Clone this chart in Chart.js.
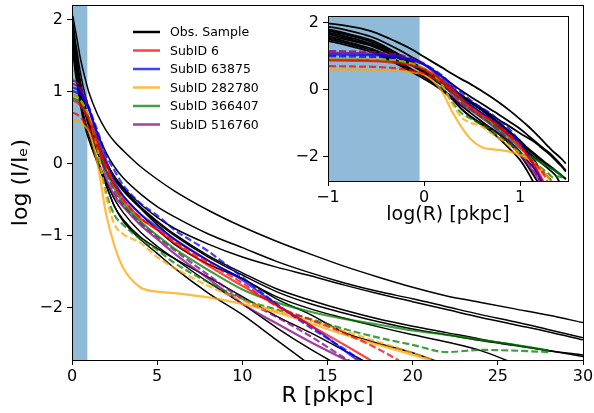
<!DOCTYPE html>
<html>
<head>
<meta charset="utf-8">
<script src="https://cdn.jsdelivr.net/npm/chart.js@4.4.0/dist/chart.umd.min.js"></script>
<style>
html, body { margin: 0; padding: 0; background: #fff; }
#wrap { position: relative; width: 594px; height: 413px; }
#main { position: absolute; left: 0; top: 0; }
#inset { position: absolute; left: 292px; top: 8px; }
</style>
</head>
<body>
<div id="wrap">
  <canvas id="main" width="594" height="413" style="width:594px;height:413px"></canvas>
  <canvas id="inset" width="284" height="222" style="width:284px;height:222px"></canvas>
</div>
<script>
// radius grid [pkpc] shared by all profiles
const radii = [0.05, 0.1, 0.2, 0.3, 0.5, 0.75, 1, 1.5, 2, 2.5, 3, 4, 5, 6, 8, 10, 12, 14, 16, 18, 20, 22, 24, 26, 28, 30];

// observed sample, log(I/Ie) at each radius (shorter lists = profile stops)
const obsA = [2.05, 1.98, 1.85, 1.72, 1.45, 1.2, 0.98, 0.68, 0.46, 0.3, 0.18, -0.04, -0.22, -0.38, -0.65, -0.88, -1.08, -1.26, -1.43, -1.58, -1.72, -1.84, -1.93, -2.02, -2.11, -2.21];
const obsB = [1.95, 1.88, 1.7, 1.55, 1.25, 0.97, 0.76, 0.42, 0.15, -0.05, -0.2, -0.42, -0.6, -0.74, -0.98, -1.17, -1.36, -1.52, -1.66, -1.78, -1.88, -1.99, -2.1, -2.2, -2.31, -2.42];
const obsB2 = [1.85, 1.76, 1.56, 1.4, 1.1, 0.82, 0.6, 0.28, 0.02, -0.18, -0.33, -0.56, -0.75, -0.9, -1.12, -1.3, -1.44, -1.56, -1.69, -1.81, -1.92, -2.03, -2.14, -2.24, -2.34, -2.45];
const obsC = [1.8, 1.7, 1.5, 1.35, 1.05, 0.77, 0.56, 0.24, 0.0, -0.2, -0.36, -0.6, -0.82, -1.0, -1.3, -1.55, -1.78, -1.95, -2.08, -2.2, -2.3, -2.38, -2.46, -2.53, -2.6, -2.66];
const obsJ = [1.9, 1.8, 1.6, 1.45, 1.12, 0.82, 0.6, 0.28, 0.02, -0.19, -0.35, -0.6, -0.8, -0.98, -1.28, -1.52, -1.74, -1.9, -2.04, -2.16, -2.26, -2.35, -2.44, -2.52, -2.6, -2.68];
const obsD = [1.7, 1.6, 1.42, 1.28, 1.0, 0.74, 0.54, 0.22, -0.02, -0.22, -0.38, -0.62, -0.85, -1.05, -1.35, -1.6, -1.85, -2.02, -2.15, -2.27, -2.38, -2.48, -2.6, -2.78];
const obsE = [1.75, 1.65, 1.45, 1.3, 1.0, 0.72, 0.5, 0.15, -0.1, -0.3, -0.45, -0.7, -0.92, -1.12, -1.4, -1.6, -1.88, -2.1, -2.35, -2.5, -2.63, -2.8];
const obsG = [1.6, 1.5, 1.3, 1.15, 0.85, 0.58, 0.38, 0.05, -0.25, -0.5, -0.68, -0.95, -1.15, -1.32, -1.65, -1.95, -2.28, -2.58, -2.85];
const obsH = [1.55, 1.45, 1.25, 1.1, 0.8, 0.52, 0.32, 0.0, -0.3, -0.6, -0.8, -1.05, -1.25, -1.45, -1.8, -2.1, -2.45, -2.8];
const obsI = [1.65, 1.55, 1.35, 1.2, 0.9, 0.6, 0.4, 0.02, -0.3, -0.6, -0.78, -1.02, -1.18, -1.32, -1.58, -1.85, -2.12, -2.35, -2.6, -2.85];

// simulated galaxies: solid and dashed profile each
const sub6Solid = [0.87, 0.87, 0.86, 0.85, 0.8, 0.72, 0.6, 0.3, 0.0, -0.3, -0.5, -0.76, -0.92, -1.1, -1.42, -1.7, -1.97, -2.25, -2.52, -2.8];
const sub6Dashed = [0.7, 0.7, 0.69, 0.68, 0.64, 0.57, 0.48, 0.22, -0.05, -0.32, -0.5, -0.75, -0.92, -1.08, -1.38, -1.66, -1.98, -2.17, -2.36, -2.58, -2.85];
const sub63875Solid = [1.05, 1.05, 1.04, 1.03, 0.98, 0.88, 0.75, 0.4, 0.05, -0.25, -0.45, -0.7, -0.88, -1.05, -1.35, -1.62, -1.96, -2.25, -2.6, -2.95];
const sub63875Dashed = [1.0, 1.0, 0.99, 0.98, 0.95, 0.87, 0.76, 0.45, 0.12, -0.1, -0.3, -0.55, -0.72, -0.92, -1.22, -1.58, -1.95, -2.28, -2.58, -2.9];
const sub282780Solid = [0.6, 0.6, 0.6, 0.59, 0.57, 0.52, 0.44, 0.0, -0.7, -1.15, -1.45, -1.72, -1.78, -1.8, -1.86, -1.95, -2.07, -2.22, -2.38, -2.52, -2.66, -2.8];
const sub282780Dashed = [0.95, 0.95, 0.94, 0.92, 0.88, 0.78, 0.65, 0.2, -0.45, -0.85, -0.98, -1.1, -1.3, -1.45, -1.7, -1.9, -2.05, -2.18, -2.33, -2.48, -2.63, -2.8];
const sub366407Solid = [0.9, 0.9, 0.89, 0.88, 0.84, 0.75, 0.63, 0.3, -0.1, -0.35, -0.55, -0.8, -1.0, -1.18, -1.48, -1.75, -1.93, -2.06, -2.16, -2.24, -2.32, -2.38, -2.45, -2.52, -2.6];
const sub366407Dashed = [0.95, 0.95, 0.94, 0.93, 0.88, 0.78, 0.62, 0.15, -0.4, -0.72, -0.85, -1.05, -1.2, -1.38, -1.65, -1.88, -2.03, -2.16, -2.3, -2.42, -2.52, -2.62, -2.59, -2.6, -2.62];
const sub516760Solid = [1.1, 1.1, 1.09, 1.07, 1.02, 0.9, 0.75, 0.3, -0.2, -0.45, -0.6, -0.85, -1.05, -1.25, -1.6, -1.95, -2.22, -2.48, -2.72, -2.95];
const sub516760Dashed = [1.15, 1.15, 1.14, 1.12, 1.06, 0.93, 0.78, 0.35, -0.1, -0.4, -0.57, -0.82, -1.02, -1.2, -1.55, -1.88, -2.13, -2.4, -2.7, -2.95];

const seriesLabels = ['Obs. Sample', 'SubID 6', 'SubID 63875', 'SubID 282780', 'SubID 366407', 'SubID 516760'];
const xTicks = [0, 5, 10, 15, 20, 25, 30];
const yTicks = [-2, -1, 0, 1, 2];
const insetXTicks = [-1, 0, 1];
const insetYTicks = [-2, 0, 2];
const shadeEnd = 0.9; // pkpc

const obsProfiles = [obsA, obsB, obsB2, obsC, obsJ, obsD, obsE, obsG, obsH, obsI];
const subProfiles = [
  [sub6Solid, sub6Dashed],
  [sub63875Solid, sub63875Dashed],
  [sub282780Solid, sub282780Dashed],
  [sub366407Solid, sub366407Dashed],
  [sub516760Solid, sub516760Dashed]
];
const colors = ['#000000', 'rgba(255,0,0,0.75)', 'rgba(0,0,255,0.75)', 'rgba(255,165,0,0.75)', 'rgba(0,128,0,0.75)', 'rgba(128,0,128,0.75)'];
const FONT = 'DejaVu Sans';

function toPoints(profile, toX) {
  return profile.map((y, i) => ({ x: toX(radii[i]), y: y }));
}

function buildDatasets(toX, blackWidth) {
  const sets = [];
  obsProfiles.forEach(p => {
    sets.push({ data: toPoints(p, toX), borderColor: colors[0], borderWidth: blackWidth, order: 2 });
  });
  subProfiles.forEach((pair, i) => {
    sets.push({ data: toPoints(pair[0], toX), borderColor: colors[i + 1], borderWidth: 2.2, order: 1 });
    sets.push({ data: toPoints(pair[1], toX), borderColor: colors[i + 1], borderWidth: 2.2, borderDash: [7, 3], order: 1 });
  });
  return sets;
}

function minus(v) {
  return v < 0 ? '\u2212' + Math.abs(v) : String(v);
}

// blue band over the inner region
const shadePlugin = {
  id: 'shade',
  beforeDatasetsDraw(chart, args, opts) {
    const a = chart.chartArea;
    const x = chart.scales.x;
    const x0 = Math.max(a.left, x.getPixelForValue(opts.from));
    const x1 = x.getPixelForValue(opts.to);
    const ctx = chart.ctx;
    ctx.save();
    ctx.fillStyle = 'rgba(31,119,180,0.5)';
    ctx.fillRect(x0, a.top, x1 - x0, a.bottom - a.top);
    ctx.restore();
  }
};

// box around the axes
const framePlugin = {
  id: 'frame',
  afterDraw(chart) {
    const a = chart.chartArea;
    const ctx = chart.ctx;
    ctx.save();
    ctx.strokeStyle = '#000';
    ctx.lineWidth = 1;
    ctx.strokeRect(Math.round(a.left) + 0.5, Math.round(a.top) + 0.5, Math.round(a.right - a.left), Math.round(a.bottom - a.top));
    ctx.restore();
  }
};

const legendPlugin = {
  id: 'sketchLegend',
  afterDatasetsDraw(chart) {
    const a = chart.chartArea;
    const ctx = chart.ctx;
    ctx.save();
    ctx.font = '12.5px "' + FONT + '"';
    ctx.textBaseline = 'middle';
    seriesLabels.forEach((lab, i) => {
      const y = a.top + 27 + i * 18.5;
      const x = a.left + 61;
      ctx.strokeStyle = colors[i];
      ctx.lineWidth = 2.5;
      ctx.beginPath();
      ctx.moveTo(x, y);
      ctx.lineTo(x + 27, y);
      ctx.stroke();
      ctx.fillStyle = '#000';
      ctx.fillText(lab, x + 37, y + 1);
    });
    ctx.restore();
  }
};

function makeChart(canvasId, cfg) {
  return new Chart(document.getElementById(canvasId), {
    type: 'line',
    data: { datasets: cfg.datasets },
    options: {
      responsive: false,
      animation: false,
      layout: { padding: cfg.padding },
      elements: {
        point: { radius: 0 },
        line: { cubicInterpolationMode: 'monotone', borderCapStyle: 'butt', fill: false }
      },
      plugins: {
        legend: { display: false },
        tooltip: { enabled: false },
        shade: cfg.shade
      },
      scales: {
        x: {
          type: 'linear',
          min: cfg.xMin,
          max: cfg.xMax,
          afterBuildTicks: s => { s.ticks = cfg.xTicks.map(v => ({ value: v })); },
          afterFit: s => { s.height = cfg.xHeight; s.paddingLeft = 0; s.paddingRight = 0; },
          grid: { drawOnChartArea: false, drawTicks: true, tickLength: 5, color: '#000' },
          border: { display: true, color: '#000', width: 1 },
          ticks: { color: '#000', font: { family: FONT, size: 16 }, padding: 2, maxRotation: 0, callback: minus },
          title: { display: true, text: cfg.xTitle, color: '#000', font: { family: FONT, size: cfg.xTitleSize }, padding: { top: 2, bottom: 4 } }
        },
        y: {
          type: 'linear',
          min: cfg.yMin,
          max: cfg.yMax,
          afterBuildTicks: s => { s.ticks = cfg.yTicks.map(v => ({ value: v })); },
          afterFit: s => { s.width = cfg.yWidth; s.paddingTop = 0; s.paddingBottom = 0; },
          grid: { drawOnChartArea: false, drawTicks: true, tickLength: 5, color: '#000' },
          border: { display: true, color: '#000', width: 1 },
          ticks: { color: '#000', font: { family: FONT, size: 16 }, padding: 4, callback: minus },
          title: { display: !!cfg.yTitle, text: cfg.yTitle, color: '#000', font: { family: FONT, size: 22 }, padding: { top: 8, bottom: 0 } }
        }
      }
    },
    plugins: cfg.plugins
  });
}

makeChart('main', {
  datasets: buildDatasets(r => r, 1.5),
  padding: { top: 5, right: 11, left: 0, bottom: 0 },
  shade: { from: 0, to: shadeEnd },
  xMin: 0, xMax: 30, xTicks: xTicks, xHeight: 53, xTitle: 'R [pkpc]', xTitleSize: 22,
  yMin: -2.73, yMax: 2.2, yTicks: yTicks, yWidth: 72, yTitle: 'log (I/I\u2091)',
  plugins: [shadePlugin, framePlugin, legendPlugin]
});

makeChart('inset', {
  datasets: buildDatasets(r => Math.log10(r), 1.8),
  padding: { top: 8, right: 8, left: 0, bottom: 0 },
  shade: { from: -1, to: Math.log10(shadeEnd) },
  xMin: -1, xMax: 1.5, xTicks: insetXTicks, xHeight: 49, xTitle: 'log(R) [pkpc]', xTitleSize: 19,
  yMin: -2.73, yMax: 2.2, yTicks: insetYTicks, yWidth: 36, yTitle: '',
  plugins: [shadePlugin, framePlugin]
});
</script>
</body>
</html>
